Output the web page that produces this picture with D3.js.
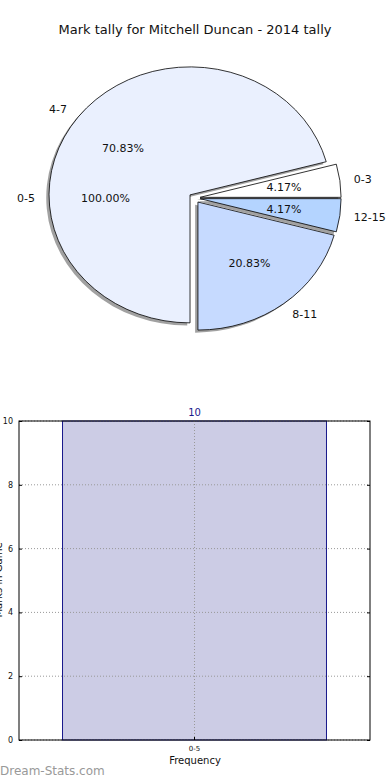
<!DOCTYPE html>
<html>
<head>
<meta charset="utf-8">
<title>Mark tally</title>
<script src="https://d3js.org/d3.v7.min.js"></script>
<style>
  body { margin: 0; background: #fff; }
  text { font-family: "DejaVu Sans", sans-serif; fill: #111; }
</style>
</head>
<body>
<div id="chart"></div>
<script>
// data
var pieLabels = ["0-3", "4-7", "8-11", "12-15"];
var pieValues = [1, 17, 5, 1];
var pieColors = ["#ffffff", "#eaf0fe", "#c6daff", "#b4d4ff"];
var totalLabels = ["0-5"];
var totalValues = [24];
var barCats = ["0-5"];
var barValues = [10];
var yTicks = [0, 2, 4, 6, 8, 10];

var W = 390, H = 780;
var svg = d3.select("#chart").append("svg").attr("width", W).attr("height", H);

svg.append("text").attr("x", 195).attr("y", 34).attr("text-anchor", "middle")
  .style("font-size", "13px").text("Mark tally for Mitchell Duncan - 2014 tally");

// pie (elliptical, like the original)
var cx = 194.5, cy = 198, rx = 141, ry = 128, expl = 0.04;
var pie = d3.pie().sort(null).startAngle(Math.PI / 2).endAngle(Math.PI / 2 - 2 * Math.PI);
var arcs = pie(pieValues);
var arc = d3.arc().innerRadius(0).outerRadius(1);
var fmt = d3.format(".2f");
var tot = d3.sum(pieValues);

function mid(d) { return (d.startAngle + d.endAngle) / 2; }
function off(d, k) {
  var a = mid(d);
  return [cx + Math.sin(a) * k * rx, cy - Math.cos(a) * k * ry];
}

var gp = svg.append("g");
// shadows
gp.selectAll("path.shadow").data(arcs).enter().append("path")
  .attr("class", "shadow")
  .attr("transform", d => { var p = off(d, expl); return "translate(" + (p[0] - 2.8) + "," + (p[1] + 2.6) + ") scale(" + rx + "," + ry + ")"; })
  .attr("d", arc)
  .style("fill", "#444").style("opacity", 0.5);

gp.selectAll("path.wedge").data(arcs).enter().append("path")
  .attr("class", "wedge")
  .attr("transform", d => { var p = off(d, expl); return "translate(" + p[0] + "," + p[1] + ") scale(" + rx + "," + ry + ")"; })
  .attr("d", arc)
  .attr("vector-effect", "non-scaling-stroke")
  .style("fill", (d, i) => pieColors[i]).style("stroke", "#000").style("stroke-width", 0.8);

gp.selectAll("text.lab").data(arcs).enter().append("text")
  .attr("class", "lab")
  .attr("x", d => off(d, expl + 1.1)[0])
  .attr("y", d => off(d, expl + 1.1)[1])
  .attr("dy", "0.35em")
  .attr("text-anchor", d => Math.sin(mid(d)) < 0 ? "end" : "start")
  .style("font-size", "11px")
  .text((d, i) => pieLabels[i]);

gp.selectAll("text.pct").data(arcs).enter().append("text")
  .attr("class", "pct")
  .attr("x", d => off(d, expl + 0.6)[0])
  .attr("y", d => off(d, expl + 0.6)[1])
  .attr("dy", "0.35em")
  .attr("text-anchor", "middle")
  .style("font-size", "11px")
  .text(d => fmt(d.value / tot * 100) + "%");

// second (single-slice) pie labels
var arcs2 = pie(totalValues);
var cx2 = 190;
gp.selectAll("text.lab2").data(arcs2).enter().append("text")
  .attr("x", d => cx2 + Math.sin(mid(d)) * 1.1 * rx)
  .attr("y", d => cy - Math.cos(mid(d)) * 1.1 * ry)
  .attr("dy", "0.35em").attr("text-anchor", "end")
  .style("font-size", "11px")
  .text((d, i) => totalLabels[i]);
gp.selectAll("text.pct2").data(arcs2).enter().append("text")
  .attr("x", d => cx2 + Math.sin(mid(d)) * 0.6 * rx)
  .attr("y", d => cy - Math.cos(mid(d)) * 0.6 * ry)
  .attr("dy", "0.35em").attr("text-anchor", "middle")
  .style("font-size", "11px")
  .text(d => fmt(d.value / d3.sum(totalValues) * 100) + "%");

// bar chart
var bx0 = 19, bx1 = 370, by0 = 421, by1 = 740;
var x = d3.scaleBand().domain(barCats).range([bx0, bx1]).paddingInner(0.1415).paddingOuter(0.1415);
var y = d3.scaleLinear().domain([0, 10]).range([by1, by0]);
var gb = svg.append("g");

gb.selectAll("rect.bar").data(barValues).enter().append("rect")
  .attr("x", (d, i) => x(barCats[i]))
  .attr("y", d => y(d))
  .attr("width", x.bandwidth())
  .attr("height", d => y(0) - y(d))
  .style("fill", "#ccccE5").style("stroke", "#1a1a8c").style("stroke-width", 1);

// grid
gb.selectAll("line.hg").data(yTicks).enter().append("line")
  .attr("x1", bx0).attr("x2", bx1).attr("y1", d => y(d)).attr("y2", d => y(d))
  .style("stroke", "#999").style("stroke-dasharray", "1,2").style("stroke-width", 1);
gb.selectAll("line.vg").data(barCats).enter().append("line")
  .attr("x1", d => x(d) + x.bandwidth() / 2).attr("x2", d => x(d) + x.bandwidth() / 2)
  .attr("y1", by0).attr("y2", by1)
  .style("stroke", "#999").style("stroke-dasharray", "1,2").style("stroke-width", 1);

gb.append("rect").attr("x", bx0).attr("y", by0).attr("width", bx1 - bx0).attr("height", by1 - by0)
  .style("fill", "none").style("stroke", "#000").style("stroke-width", 1);

var yAx = gb.append("g").attr("transform", "translate(" + bx0 + ",0)")
  .call(d3.axisLeft(y).tickValues(yTicks).tickSize(-3).tickPadding(6));
yAx.select(".domain").remove();
yAx.selectAll("text").style("font-size", "8px");
var yAxR = gb.append("g").attr("transform", "translate(" + bx1 + ",0)")
  .call(d3.axisRight(y).tickValues(yTicks).tickSize(-3).tickFormat(""));
yAxR.select(".domain").remove();

var xAx = gb.append("g").attr("transform", "translate(0," + by1 + ")")
  .call(d3.axisBottom(x).tickSize(-3).tickPadding(6));
xAx.select(".domain").remove();
xAx.selectAll("text").style("font-size", "7px");

gb.selectAll("text.val").data(barValues).enter().append("text")
  .attr("x", (d, i) => x(barCats[i]) + x.bandwidth() / 2)
  .attr("y", d => y(d) - 5)
  .attr("text-anchor", "middle")
  .style("font-size", "10px").style("fill", "#1a1a8c")
  .text(d => d);

svg.append("text").attr("x", 195).attr("y", 764).attr("text-anchor", "middle")
  .style("font-size", "10px").text("Frequency");

// y label is clipped at the left edge in the original too
svg.append("text").attr("transform", "translate(2,580) rotate(-90)")
  .attr("text-anchor", "middle").style("font-size", "10px").text("Marks in Game");

svg.append("text").attr("x", 0).attr("y", 775)
  .style("font-size", "12px").style("fill", "#999")
  .text("Dream-Stats.com");
</script>
</body>
</html>
